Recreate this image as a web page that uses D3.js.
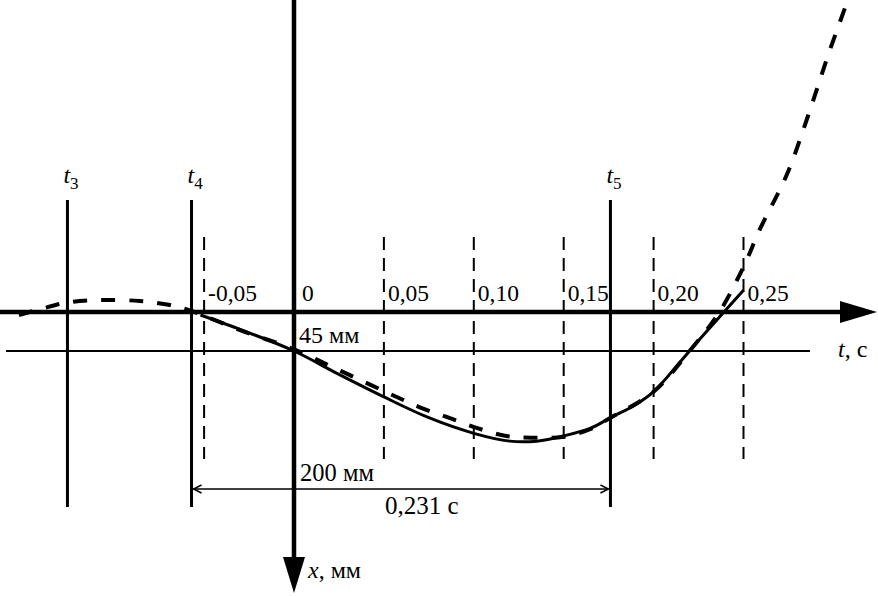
<!DOCTYPE html>
<html><head><meta charset="utf-8">
<script src="https://cdn.jsdelivr.net/npm/d3@7"></script>
<style>html,body{margin:0;padding:0;background:#fff;}svg{display:block;}text{font-family:"Liberation Serif","Times New Roman",serif;fill:#000;}</style>
</head><body>
<script>
// ---- data ----
const tickValues = [-0.05, 0, 0.05, 0.10, 0.15, 0.20, 0.25];
const tickLabels = ["-0,05", "0", "0,05", "0,10", "0,15", "0,20", "0,25"];
const markerNames = ["3", "4", "5"];
const markerTimes = [-0.126, -0.057, 0.176];
const solidT = [-0.052, -0.025, 0, 0.025, 0.05, 0.075, 0.10, 0.12, 0.135, 0.15, 0.165, 0.176, 0.19, 0.20, 0.215, 0.225, 0.237, 0.25];
const solidX = [3.5, 24, 45, 72, 98, 122, 140, 149, 149, 143, 134, 122, 107, 92, 57, 33, 5, -25];
const dashT = [-0.153, -0.14, -0.126, -0.108, -0.086, -0.069, -0.057, -0.03, 0, 0.026, 0.055, 0.07, 0.086, 0.102, 0.118, 0.133, 0.15, 0.165, 0.176, 0.20, 0.22, 0.236, 0.25, 0.259, 0.274, 0.286, 0.297, 0.307];
const dashX = [3.5, -4, -11, -13.8, -12.7, -8, -1.2, 21, 43, 68, 96, 110, 122, 134, 143, 145, 144, 135, 122, 92, 45, 2, -52, -95, -158, -227, -296, -354];
const offsetMM = 45;
const spanLabelMM = "200 мм";
const spanLabelT = "0,231 с";

// ---- drawing ----
const W = 878, H = 596;
const svg = d3.select("body").append("svg").attr("width", W).attr("height", H);
const xs = d3.scaleLinear().domain([0, 0.25]).range([294, 743.5]);
const ys = d3.scaleLinear().domain([0, 45]).range([312, 351]);

// dashed grid lines
svg.selectAll("line.grid").data(tickValues.filter(v => v !== 0)).enter().append("line")
  .attr("x1", d => xs(d)).attr("x2", d => xs(d)).attr("y1", 237).attr("y2", 459)
  .attr("stroke", "#000").attr("stroke-width", 2).attr("stroke-dasharray", "13,8");

// marker lines t3,t4,t5
svg.selectAll("line.mk").data(markerTimes).enter().append("line")
  .attr("x1", d => xs(d)).attr("x2", d => xs(d)).attr("y1", 200).attr("y2", 507)
  .attr("stroke", "#000").attr("stroke-width", 3);
const mk = svg.selectAll("text.mk").data(markerTimes).enter().append("text")
  .attr("x", d => xs(d) - 4).attr("y", 183).style("font-size", "24px");
mk.append("tspan").style("font-style", "italic").text("t");
mk.append("tspan").attr("dy", 6).style("font-size", "17px").text((d, i) => markerNames[i]);

// thin offset line
svg.append("line").attr("x1", 6).attr("x2", 810).attr("y1", ys(offsetMM)).attr("y2", ys(offsetMM))
  .attr("stroke", "#000").attr("stroke-width", 2);

// main horizontal axis
svg.append("line").attr("x1", 0).attr("x2", 845).attr("y1", ys(0)).attr("y2", ys(0))
  .attr("stroke", "#000").attr("stroke-width", 4.5);
svg.append("path").attr("d", `M840,${ys(0)-11}L877,${ys(0)}L840,${ys(0)+11}Z`).attr("fill", "#000");

// main vertical axis
svg.append("line").attr("x1", xs(0)).attr("x2", xs(0)).attr("y1", 0).attr("y2", 560)
  .attr("stroke", "#000").attr("stroke-width", 4.5);
svg.append("path").attr("d", `M${xs(0)-11},557L${xs(0)},593L${xs(0)+11},557Z`).attr("fill", "#000");

// tick labels
svg.selectAll("text.tick").data(tickValues).enter().append("text")
  .attr("x", d => xs(d) + (d === 0 ? 8 : 4)).attr("y", 301).style("font-size", "23.5px")
  .text((d, i) => tickLabels[i]);

// curves
const line = d3.line().x(d => xs(d[0])).y(d => ys(d[1])).curve(d3.curveCatmullRom.alpha(0.5));
svg.append("path").attr("d", line(solidT.map((t, i) => [t, solidX[i]])))
  .attr("fill", "none").attr("stroke", "#000").attr("stroke-width", 3);
svg.append("path").attr("d", line(dashT.map((t, i) => [t, dashX[i]])))
  .attr("fill", "none").attr("stroke", "#000").attr("stroke-width", 4).attr("stroke-dasharray", "14,14");

// labels
svg.append("text").attr("x", 299).attr("y", 343).style("font-size", "24px").text(offsetMM + " мм");
const tl = svg.append("text").attr("x", 838).attr("y", 357).style("font-size", "24px");
tl.append("tspan").style("font-style", "italic").text("t");
tl.append("tspan").text(", с");
const xl = svg.append("text").attr("x", 308).attr("y", 578).style("font-size", "24px");
xl.append("tspan").style("font-style", "italic").text("x");
xl.append("tspan").text(", мм");

// dimension arrow between t4 and t5
const dy = 489, dx1 = xs(markerTimes[1]) + 2, dx2 = xs(markerTimes[2]) - 2;
svg.append("line").attr("x1", dx1).attr("x2", dx2).attr("y1", dy).attr("y2", dy).attr("stroke", "#000").attr("stroke-width", 1.5);
svg.append("path").attr("d", `M${dx1+8},${dy-4}L${dx1},${dy}L${dx1+8},${dy+4}`).attr("fill", "none").attr("stroke", "#000").attr("stroke-width", 1.5);
svg.append("path").attr("d", `M${dx2-8},${dy-4}L${dx2},${dy}L${dx2-8},${dy+4}`).attr("fill", "none").attr("stroke", "#000").attr("stroke-width", 1.5);
svg.append("text").attr("x", 300).attr("y", 481).style("font-size", "24.5px").text(spanLabelMM);
svg.append("text").attr("x", 385).attr("y", 514).style("font-size", "25px").text(spanLabelT);
</script>
</body></html>
